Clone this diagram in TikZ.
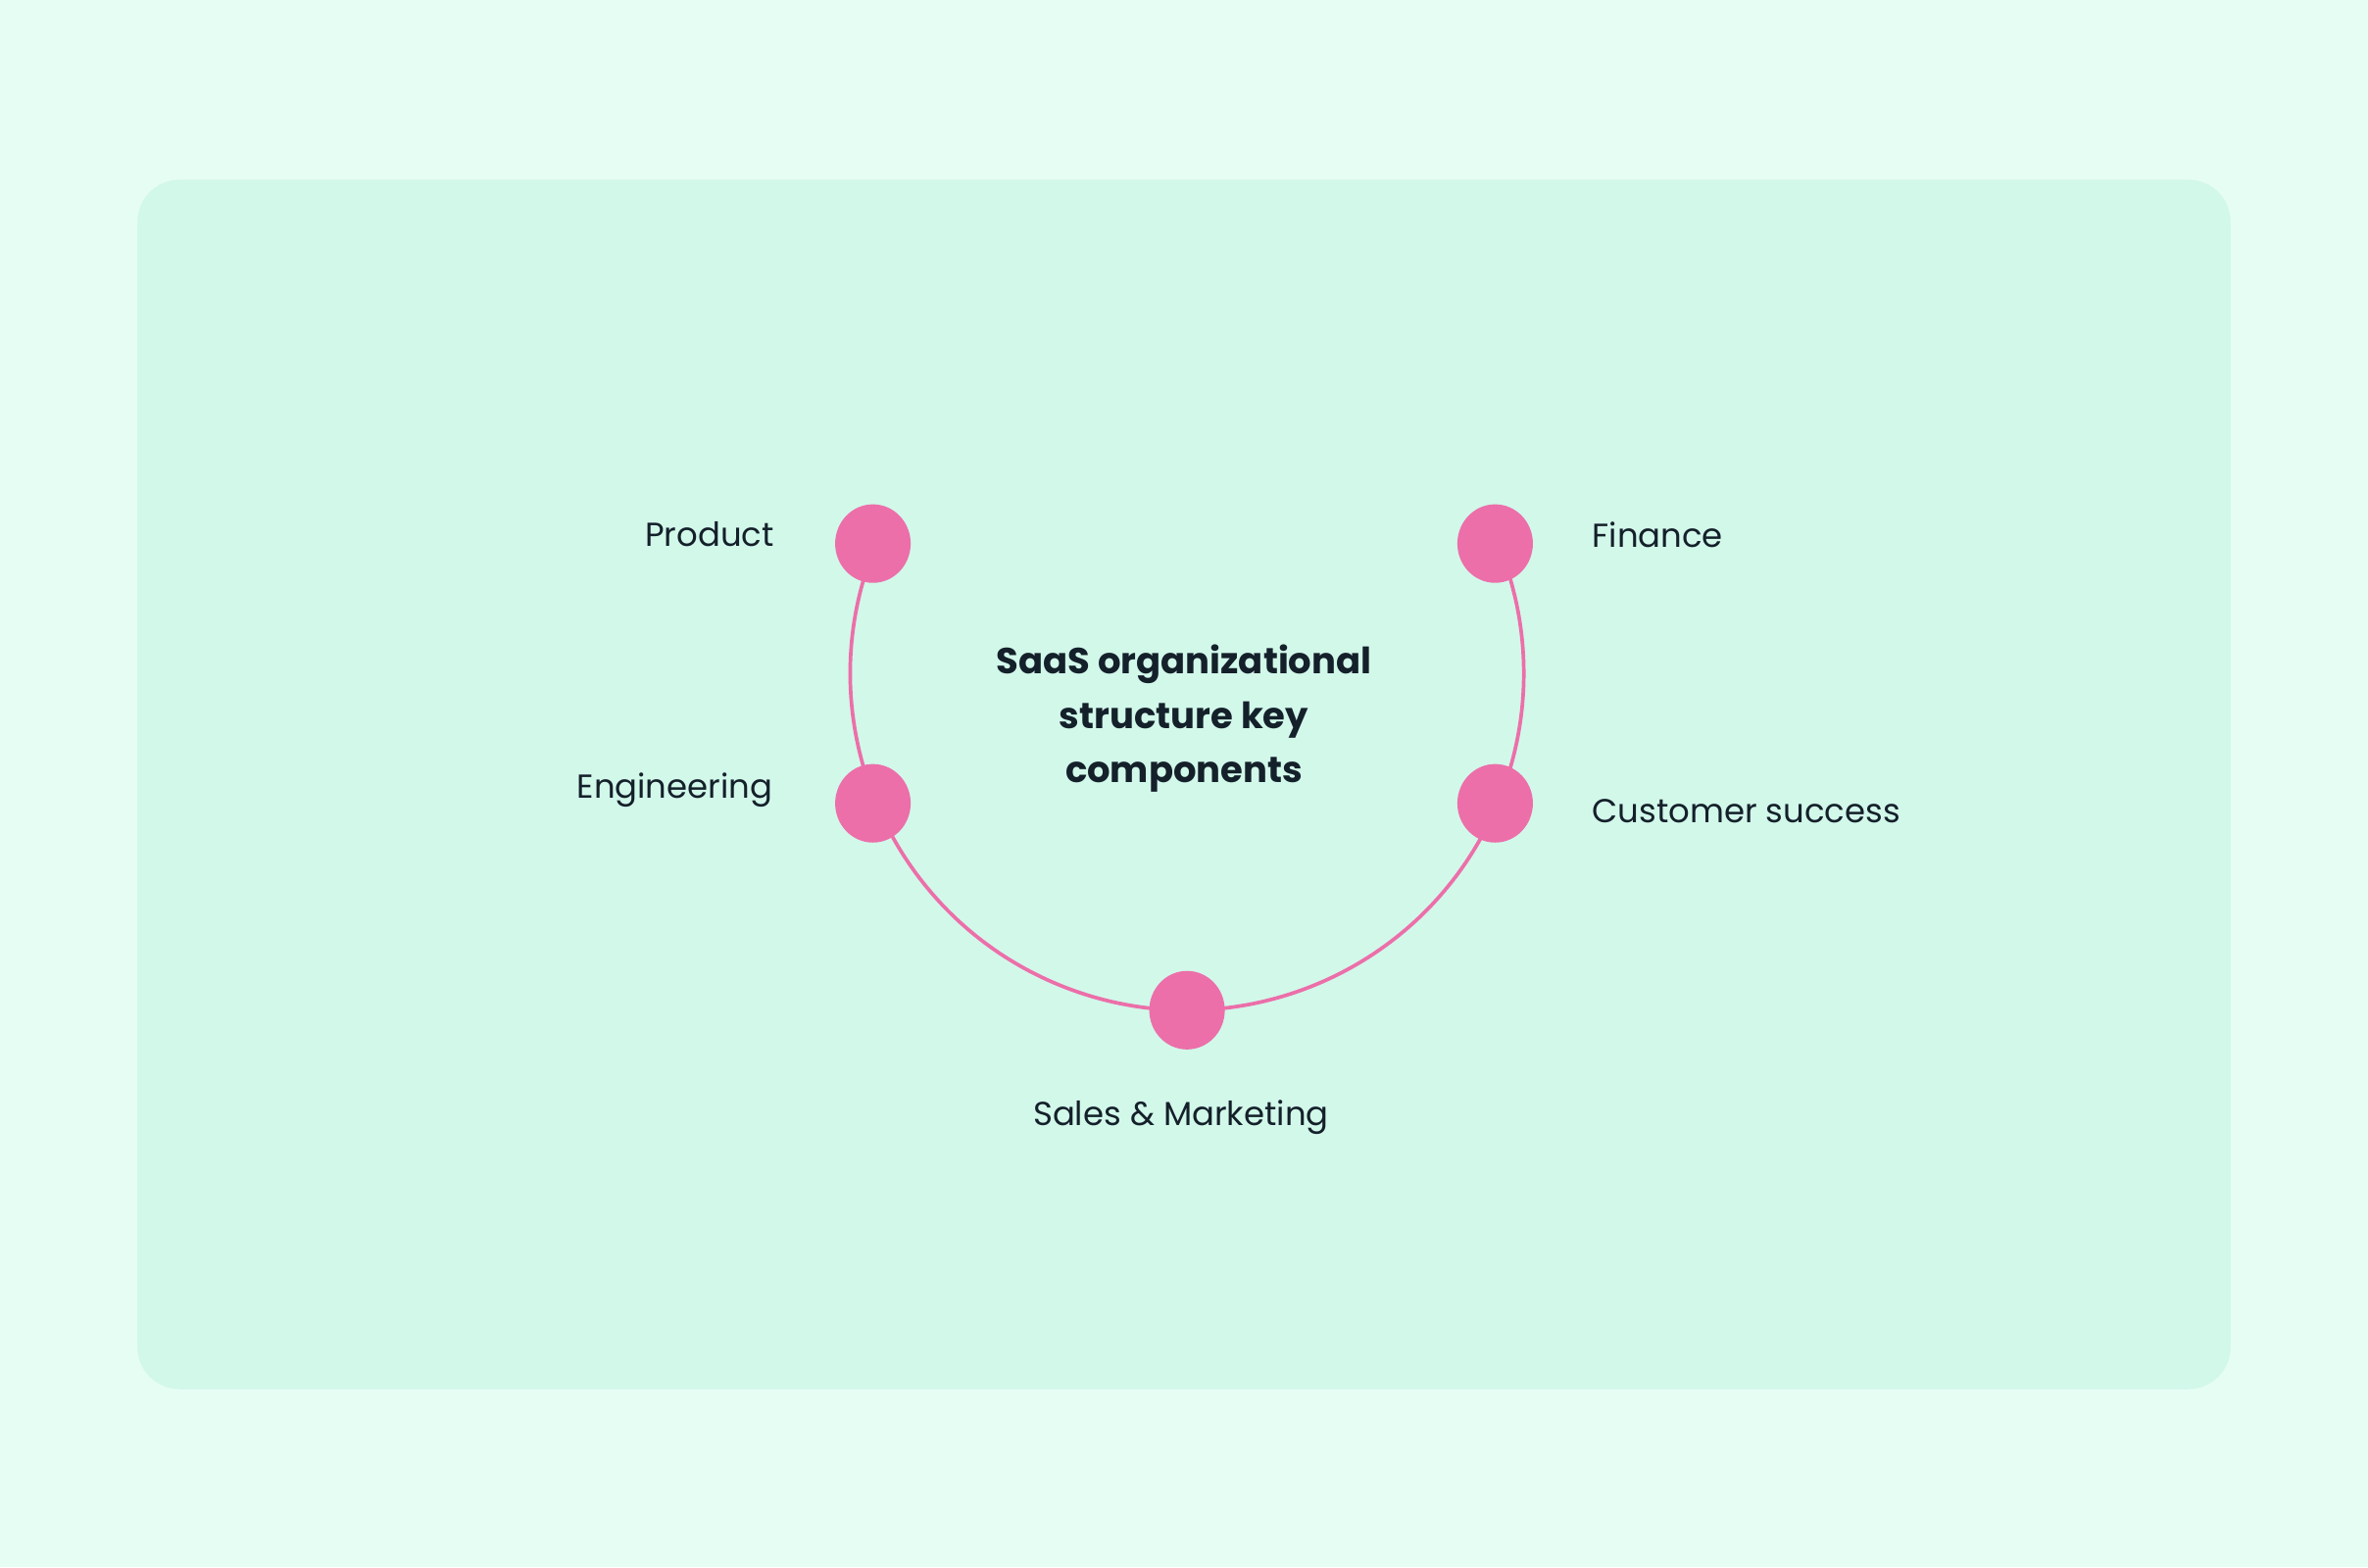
\documentclass[tikz,border=0pt]{standalone}
\usepackage{fontspec}
\setmainfont{Poppins}
\definecolor{bgout}{HTML}{E6FDF4}
\definecolor{bgin}{HTML}{D2F8EA}
\definecolor{pinkc}{HTML}{EC6FA9}
\definecolor{txt}{HTML}{14202A}
\begin{document}
\begin{tikzpicture}[x=0.5pt,y=0.5pt,
  dot/.style={ellipse,fill=pinkc,minimum width=25pt,minimum height=26pt,inner sep=0pt},
  lbl/.style={font=\fontsize{11}{13}\selectfont,text=txt,inner sep=0pt}]
\usetikzlibrary{shapes.geometric}
\fill[bgout] (0,0) rectangle (1568,1038);
\useasboundingbox (0,0) rectangle (1568,1038);
\fill[bgin,rounded corners=14pt] (91,118) rectangle (1477,919);
\coordinate (c) at (786,592);
\draw[pinkc,line width=1.2pt] ([shift={(157.5:223)}]c) arc[start angle=157.5,end angle=382.5,radius=223];
\node[dot] (product) at (578,678) {};
\node[dot] (finance) at (990,678) {};
\node[dot] (eng) at (578,506) {};
\node[dot] (cust) at (990,506) {};
\node[dot] (sales) at (786,369) {};
\node[lbl,anchor=east] (lp) at (513,684) {Product};
\node[lbl,anchor=west] (lf) at (1054,684) {Finance};
\node[lbl,anchor=east] (le) at (512,515) {Engineering};
\node[lbl,anchor=west] (lc) at (1054,501) {Customer success};
\node[lbl] (ls) at (782,298) {Sales \& Marketing};
\node[lbl,font=\fontsize{12}{18}\selectfont\bfseries,align=center] (title) at (784,562) {SaaS organizational\\structure key\\components};
\end{tikzpicture}
\end{document}
